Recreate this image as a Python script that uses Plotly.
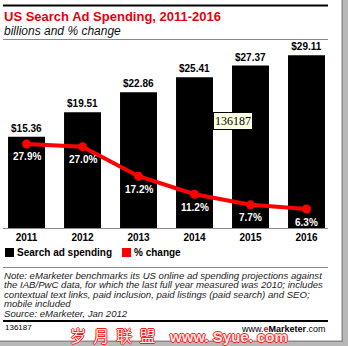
import plotly.graph_objects as go

years = ["2011", "2012", "2013", "2014", "2015", "2016"]
spending = [15.36, 19.51, 22.86, 25.41, 27.37, 29.11]
pct_change = [27.9, 27.0, 17.2, 11.2, 7.7, 6.3]

title = "US Search Ad Spending, 2011-2016"
subtitle = "billions and % change"
legend_labels = ["Search ad spending", "% change"]
note_lines = [
    "Note: eMarketer benchmarks its US online ad spending projections against",
    "the IAB/PwC data, for which the last full year measured was 2010; includes",
    "contextual text links, paid inclusion, paid listings (paid search) and SEO;",
    "mobile included",
    "Source: eMarketer, Jan 2012",
]
chart_id = "136187"
watermark_cn = "岁  月  联  盟"
watermark_url = "www. Syue. com"

W, H = 348, 346
ML, MR, MT, MB = 3, 20, 50, 118
PW = W - ML - MR
PH = H - MT - MB


def px(x):
    return (x - ML) / PW


def py(y):
    return (H - MB - y) / PH


FONT = "Liberation Sans, Arial, sans-serif"
xs = list(range(len(years)))

fig = go.Figure()
fig.add_trace(go.Bar(
    x=xs, y=spending, width=0.66, marker=dict(color="black", line=dict(width=0)),
    texttemplate="$%{y:.2f}", textposition="outside",
    textfont=dict(family=FONT, size=10, color="black", weight="bold"),
    cliponaxis=False, showlegend=False, hoverinfo="skip",
))
fig.add_trace(go.Scatter(
    x=xs, y=pct_change, yaxis="y2", mode="lines+markers",
    line=dict(color="#ff0000", width=4), marker=dict(color="#ff0000", size=9),
    cliponaxis=False, showlegend=False, hoverinfo="skip",
))

shapes = []
def hline(y, color, width):
    shapes.append(dict(type="line", xref="paper", yref="paper", x0=px(3), x1=px(328),
                       y0=py(y), y1=py(y), line=dict(color=color, width=width)))

hline(5.5, "black", 2)
hline(39.5, "#8a8a8a", 1)
hline(267.5, "#8a8a8a", 1)
hline(321, "black", 2)

# legend squares
shapes.append(dict(type="rect", xref="paper", yref="paper", x0=px(5), x1=px(14),
                   y0=py(257), y1=py(248), fillcolor="black", line=dict(width=0)))
shapes.append(dict(type="rect", xref="paper", yref="paper", x0=px(122), x1=px(131),
                   y0=py(257), y1=py(248), fillcolor="#ff0000", line=dict(width=0)))

# frame shadow
shapes.append(dict(type="rect", xref="paper", yref="paper", x0=px(342), x1=px(349),
                   y0=py(347), y1=py(-1), fillcolor="#b8b8b8", line=dict(width=0), layer="above"))
shapes.append(dict(type="rect", xref="paper", yref="paper", x0=px(341.5), x1=px(343),
                   y0=py(347), y1=py(-1), fillcolor="#8c8c8c", line=dict(width=0), layer="above"))
shapes.append(dict(type="rect", xref="paper", yref="paper", x0=px(-1), x1=px(349),
                   y0=py(347), y1=py(341), fillcolor="#b8b8b8", line=dict(width=0), layer="above"))
shapes.append(dict(type="rect", xref="paper", yref="paper", x0=px(-1), x1=px(343),
                   y0=py(342), y1=py(340.5), fillcolor="#8c8c8c", line=dict(width=0), layer="above"))

ann = []
def text(x, y, s, size, color="black", xanchor="left", family=FONT, shadow=None, **kw):
    f = dict(family=family, size=size, color=color)
    if shadow:
        f["shadow"] = shadow
    ann.append(dict(x=px(x), y=py(y), xref="paper", yref="paper", text=s, showarrow=False,
                    xanchor=xanchor, yanchor="middle", font=f, **kw))

# percentage labels under the line points (data coordinates)
for i, v in enumerate(pct_change):
    ann.append(dict(x=i, y=v, xref="x", yref="y2", text=f"<b>{v:.1f}%</b>", showarrow=False,
                    yshift=-13, xanchor="center", yanchor="middle",
                    font=dict(family=FONT, size=10, color="white")))

text(2, 16.5, f"<b>{title}</b>", 13, color="#e8000b")
text(2, 30.5, f"<i>{subtitle}</i>", 12, color="#111")
text(15, 252.5, f"<b>{legend_labels[0]}</b>", 10)
text(132, 252.5, f"<b>{legend_labels[1]}</b>", 10)
note_y = [275, 284.6, 294.2, 303.8, 313.4]
for s, yy in zip(note_lines, note_y):
    text(2, yy, f"<i>{s}</i>", 9.6, color="#222")
text(3, 327.5, chart_id, 8)
text(328, 328.5, "www.<b><span style='color:#e8000b'>e</span>Marketer</b>.com", 9, xanchor="right")
outline = "1px 0 #ff1a1a, -1px 0 #ff1a1a, 0 1px #ff1a1a, 0 -1px #ff1a1a"
text(113, 335, watermark_cn, 16, color="#ffe8e8", xanchor="center",
     family="Noto Sans CJK SC", shadow=outline)
text(228, 336, f"<b>{watermark_url}</b>", 15, color="#ffe8e8", xanchor="center",
     family=FONT, shadow=outline)
text(233, 121, chart_id, 12, family="Liberation Serif, serif", xanchor="center",
     bgcolor="#ffffe1", bordercolor="black", borderwidth=1, borderpad=1)

fig.update_layout(
    width=W, height=H, margin=dict(l=ML, r=MR, t=MT, b=MB),
    paper_bgcolor="white", plot_bgcolor="white",
    xaxis=dict(tickvals=xs, ticktext=[f"<b>{y}</b>" for y in years], range=[-0.42, 5.384],
               showgrid=False, zeroline=False, showline=True, linecolor="#8a8a8a", linewidth=1,
               ticks="", tickfont=dict(family=FONT, size=10, color="black"), fixedrange=True),
    yaxis=dict(range=[0, 30], visible=False, showgrid=False, fixedrange=True),
    yaxis2=dict(range=[0, 59.1], overlaying="y", visible=False, showgrid=False, fixedrange=True),
    shapes=shapes, annotations=ann, showlegend=False,
)
fig.write_html("out.html", config={"displayModeBar": False})
